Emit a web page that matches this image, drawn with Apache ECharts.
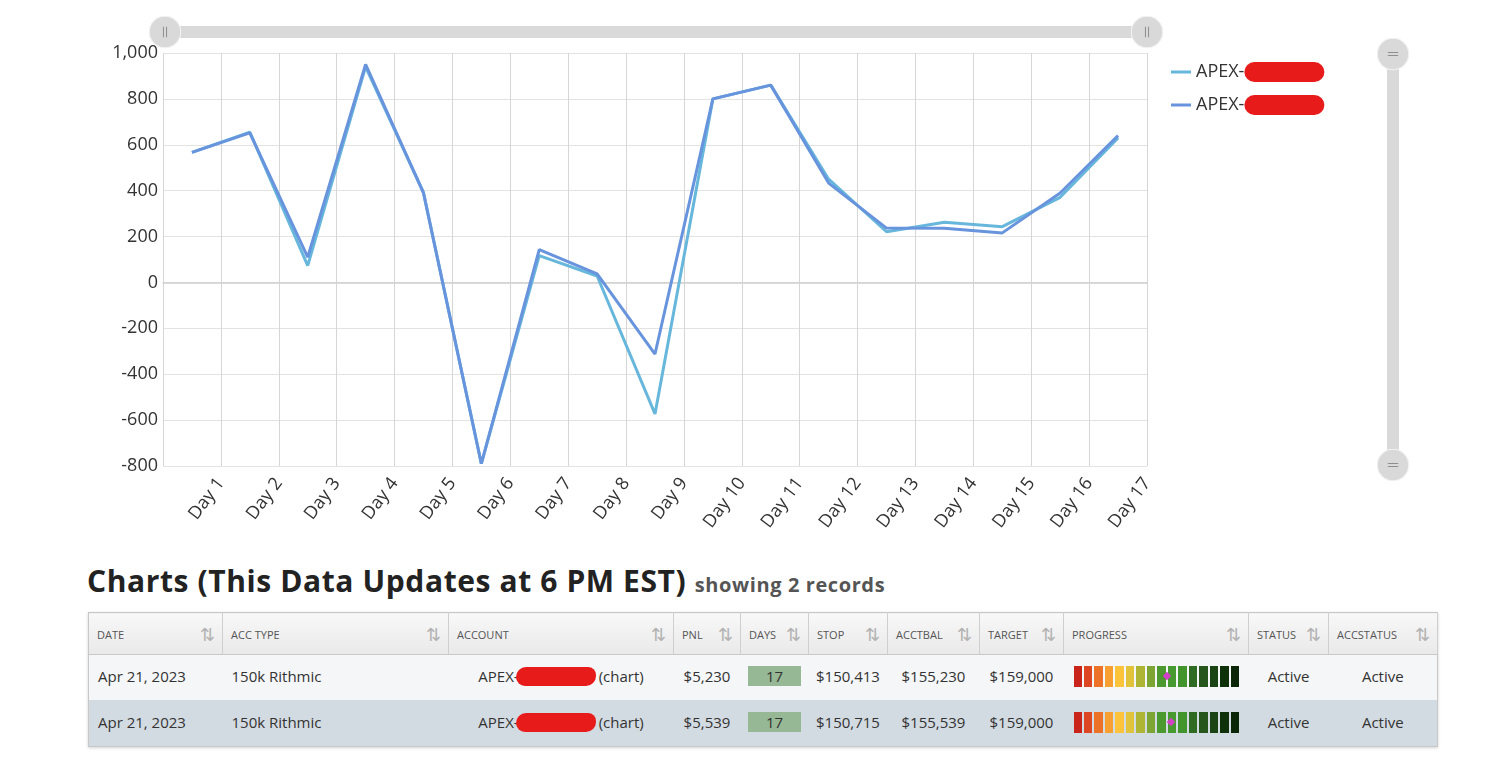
<!DOCTYPE html>
<html>
<head>
<meta charset="utf-8">
<script src="https://cdn.jsdelivr.net/npm/echarts@6/dist/echarts.min.js"></script>
<style>
  html, body { margin: 0; padding: 0; background: #fff; }
  body { width: 1503px; height: 784px; position: relative; overflow: hidden; font-family: 'Open Sans', sans-serif; color: #333; }
  #chart { position: absolute; left: 0; top: 0; width: 1503px; height: 560px; }
  h2 { position: absolute; left: 87px; top: 560px; margin: 0; font-size: 30px; font-weight: 700; color: #222; letter-spacing: 0.6px; white-space: nowrap; }
  h2 small { font-size: 20px; color: #555; font-weight: 700; letter-spacing: 0.6px; }
  table { position: absolute; left: 88px; top: 612px; width: 1349px; border-collapse: collapse; border: 1px solid #c8c8c8; box-shadow: 0 1px 3px rgba(0,0,0,0.18); table-layout: fixed; }
  th { height: 39px; padding: 2px 0 0 8px; text-align: left; font-size: 11px; font-weight: 400; color: #555; background: linear-gradient(#f8f8f8, #e9e9e9); border-right: 1px solid #cfcfcf; border-bottom: 1px solid #c8c8c8; position: relative; white-space: nowrap; }
  th .srt { position: absolute; right: 7px; top: 11px; font-family: 'DejaVu Sans'; font-size: 18px; color: #b3b3b3; }
  td { padding: 0 0 3px 9px; font-size: 15px; color: #333; white-space: nowrap; }
  td.c { text-align: center; padding-left: 0; }
  tr.r0 td { background: #f5f6f8; height: 42px; }
  tr.r1 td { background: #d3dbe2; height: 43px; }
  .red { display: inline-block; width: 80px; height: 19px; background: #e81b1b; border-radius: 10px 8px 10px 9px; vertical-align: -4px; margin: 0 3px 0 -3px; }
  .days { display: inline-block; width: 53px; height: 20px; line-height: 20px; background: #97b895; text-align: center; }
  .prog { display: inline-flex; position: relative; vertical-align: middle; }
  .prog i { display: block; width: 8.4px; height: 21px; margin-right: 2.1px; }
  .prog b { position: absolute; top: 7px; width: 6px; height: 6px; background: #d43fc8; transform: rotate(45deg); }
</style>
</head>
<body>
<div id="chart"></div>
<h2>Charts (This Data Updates at 6 PM EST) <small>showing 2 records</small></h2>
<table id="tbl"></table>
<script>
// chart data
const days = ['Day 1', 'Day 2', 'Day 3', 'Day 4', 'Day 5', 'Day 6', 'Day 7', 'Day 8', 'Day 9',
  'Day 10', 'Day 11', 'Day 12', 'Day 13', 'Day 14', 'Day 15', 'Day 16', 'Day 17'];
const seriesNames = ['APEX-a', 'APEX-b'];
const pnlA = [567, 655, 73, 940, 392, -790, 117, 28, -573, 800, 860, 450, 221, 262, 243, 371, 630];
const pnlB = [567, 652, 110, 950, 390, -790, 143, 37, -312, 800, 860, 433, 237, 236, 216, 390, 640];
const yTicks = { min: -800, max: 1000, step: 200 };

// table data
const headers = ['DATE', 'ACC TYPE', 'ACCOUNT', 'PNL', 'DAYS', 'STOP', 'ACCTBAL', 'TARGET', 'PROGRESS', 'STATUS', 'ACCSTATUS'];
const colWidths = [134, 226, 225, 67, 68, 79, 92, 84, 185, 80, 109];
const rowDates = ['Apr 21, 2023', 'Apr 21, 2023'];
const rowTypes = ['150k Rithmic', '150k Rithmic'];
const rowPnl = ['$5,230', '$5,539'];
const rowDays = [17, 17];
const rowStop = ['$150,413', '$150,715'];
const rowBal = ['$155,230', '$155,539'];
const rowTarget = ['$159,000', '$159,000'];
const rowProgress = [0.557, 0.582];
const rowStatus = ['Active', 'Active'];
const rowAccStatus = ['Active', 'Active'];
const progressColors = ['#c9241c', '#dc4623', '#ec7228', '#f79f31', '#fcc33b', '#e0c33b', '#aeb535', '#7da533',
  '#4c9a2f', '#479a2f', '#42952d', '#2f6b22', '#26561c', '#1b4414', '#0e3109', '#0a2606'];

// round grip handle, the vertical slider turns it into "="
const handleIcon = 'image://data:image/svg+xml;charset=utf-8,' + encodeURIComponent(
  "<svg xmlns='http://www.w3.org/2000/svg' width='32' height='32'>" +
  "<circle cx='16' cy='16' r='15.3' fill='#d9d9d9' stroke='#f2f2f2' stroke-width='1.2'/>" +
  "<path d='M14.5 11v10M17.5 11v10' stroke='#8f8f8f' stroke-width='1' fill='none'/></svg>");

const chart = echarts.init(document.getElementById('chart'));

const sliderStyle = {
  type: 'slider',
  filterMode: 'none',
  backgroundColor: '#d9d9d9',
  fillerColor: '#d9d9d9',
  borderColor: 'transparent',
  showDataShadow: false,
  showDetail: false,
  brushSelect: false,
  moveHandleSize: 0,
  handleIcon: handleIcon,
  handleSize: 33,
  handleStyle: { borderWidth: 0 }
};

const option = {
  animation: false,
  textStyle: { fontFamily: 'Open Sans' },
  grid: { left: 163, right: 356, top: 53, bottom: 94, containLabel: false },
  legend: {
    orient: 'vertical',
    left: 1166,
    top: 57,
    itemWidth: 20,
    itemHeight: 3,
    itemGap: 13,
    icon: 'rect',
    textStyle: {
      fontSize: 18,
      color: '#333',
      rich: {
        t: { fontSize: 18, color: '#333', fontFamily: 'Open Sans' },
        r: { width: 80, height: 20, backgroundColor: '#e81b1b', borderRadius: 10 }
      }
    },
    formatter: name => '{t|' + name.slice(0, 5) + '}{r|}'
  },
  dataZoom: [
    Object.assign({}, sliderStyle, { xAxisIndex: [0, 1], left: 163, right: 356, top: 26, height: 12 }),
    Object.assign({}, sliderStyle, { yAxisIndex: 0, orient: 'vertical', left: 1387, width: 12, top: 53, bottom: 94 })
  ],
  xAxis: [
    {
      type: 'category',
      data: days,
      boundaryGap: true,
      axisLine: { onZero: true, lineStyle: { color: '#cfcfcf', width: 1.5 } },
      axisTick: { show: false },
      axisLabel: { show: false },
      splitLine: { show: true, lineStyle: { color: '#d6d6d6' } }
    },
    {
      // label axis: names sit on band edges
      type: 'category',
      data: [''].concat(days),
      boundaryGap: false,
      position: 'bottom',
      axisLine: { show: false, onZero: false },
      axisTick: { show: false },
      splitLine: { show: false },
      axisLabel: { rotate: 53, margin: 14, fontSize: 18, color: '#333', interval: 0 }
    }
  ],
  yAxis: {
    type: 'value',
    min: yTicks.min,
    max: yTicks.max,
    interval: yTicks.step,
    axisLine: { show: false },
    axisTick: { show: false },
    axisLabel: { fontSize: 18, color: '#333', margin: 5, formatter: v => v.toLocaleString('en-US') },
    splitLine: { lineStyle: { color: '#e3e3e3' } }
  },
  series: [
    { name: seriesNames[0], type: 'line', data: pnlA, symbol: 'none', color: '#67b7dc', lineStyle: { width: 3 } },
    { name: seriesNames[1], type: 'line', data: pnlB, symbol: 'none', color: '#6794dc', lineStyle: { width: 3 } }
  ]
};
chart.setOption(option);

// table
const progressCell = p => {
  const segs = progressColors.map(c => '<i style="background:' + c + '"></i>').join('');
  const x = p * progressColors.length * 10.5 - 3;
  return '<span class="prog">' + segs + '<b style="left:' + x.toFixed(1) + 'px"></b></span>';
};
let html = '<colgroup>' + colWidths.map(w => '<col style="width:' + w + 'px">').join('') + '</colgroup>';
html += '<tr>' + headers.map(h => '<th>' + h + '<span class="srt">⇅</span></th>').join('') + '</tr>';
rowDates.forEach((d, i) => {
  html += '<tr class="r' + i + '">' +
    '<td>' + d + '</td>' +
    '<td>' + rowTypes[i] + '</td>' +
    '<td class="c">APEX-<span class="red"></span>(chart)</td>' +
    '<td class="c">' + rowPnl[i] + '</td>' +
    '<td class="c"><span class="days">' + rowDays[i] + '</span></td>' +
    '<td class="c">' + rowStop[i] + '</td>' +
    '<td class="c">' + rowBal[i] + '</td>' +
    '<td class="c">' + rowTarget[i] + '</td>' +
    '<td style="padding-left:10px">' + progressCell(rowProgress[i]) + '</td>' +
    '<td class="c">' + rowStatus[i] + '</td>' +
    '<td class="c">' + rowAccStatus[i] + '</td>' +
    '</tr>';
});
document.getElementById('tbl').innerHTML = html;
</script>
</body>
</html>
